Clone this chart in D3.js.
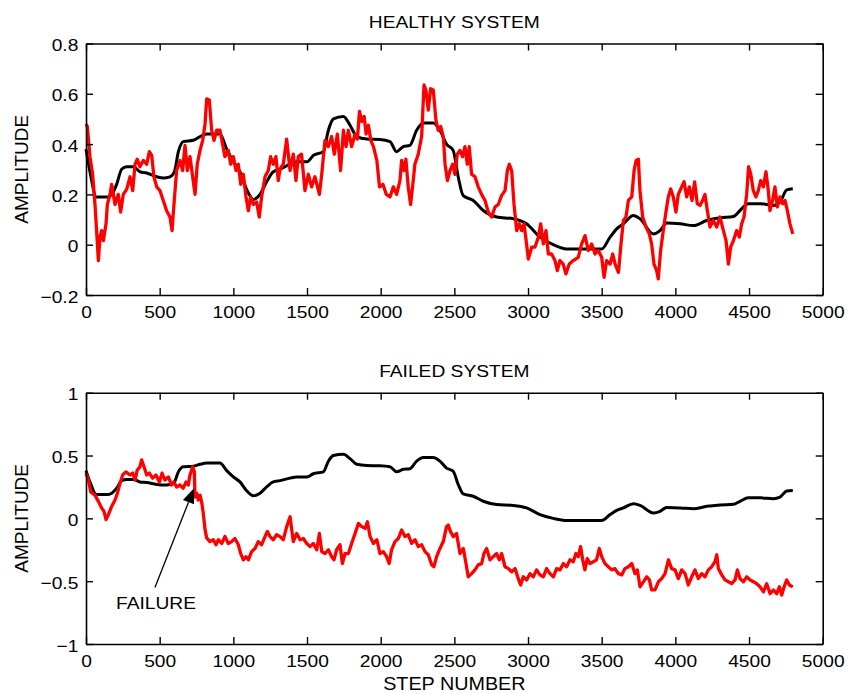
<!DOCTYPE html>
<html>
<head>
<meta charset="utf-8">
<script src="https://cdn.jsdelivr.net/npm/d3@7"></script>
<style>
  body { margin: 0; background: #fff; }
  svg { display: block; }
</style>
</head>
<body>
<svg id="chart"></svg>
<script>
// model output (black) - same in both panels
var modelLine = [[0,0.38],[30,0.28],[70,0.19],[150,0.19],[175,0.20],[208,0.24],[242,0.30],[276,0.31],[321,0.31],[366,0.29],[412,0.285],[480,0.27],[525,0.265],[570,0.27],[600,0.29],[627,0.37],[660,0.41],[728,0.415],[774,0.43],[819,0.44],[909,0.44],[955,0.38],[1000,0.33],[1045,0.29],[1090,0.22],[1136,0.18],[1181,0.20],[1226,0.25],[1271,0.29],[1317,0.30],[1384,0.32],[1430,0.33],[1500,0.33],[1543,0.355],[1611,0.37],[1645,0.455],[1679,0.50],[1747,0.51],[1792,0.475],[1838,0.43],[1906,0.42],[1995,0.418],[2063,0.41],[2108,0.37],[2153,0.39],[2198,0.395],[2244,0.455],[2289,0.484],[2357,0.484],[2402,0.455],[2447,0.40],[2492,0.375],[2526,0.27],[2560,0.195],[2628,0.176],[2696,0.136],[2787,0.11],[2900,0.103],[2990,0.083],[3081,0.03],[3171,0],[3262,-0.017],[3352,-0.017],[3500,-0.017],[3557,0.03],[3602,0.063],[3647,0.083],[3715,0.116],[3760,0.103],[3851,0.043],[3896,0.056],[3941,0.086],[4032,0.083],[4122,0.076],[4213,0.096],[4303,0.107],[4394,0.112],[4439,0.136],[4495,0.163],[4575,0.163],[4665,0.156],[4710,0.169],[4756,0.218],[4797,0.222]];

// measured signal, healthy system (red)
var healthyLine = [[0,0.48],[9,0.47],[27,0.35],[45,0.28],[61,0.16],[72,0.056],[84,-0.063],[95,0.03],[106,0.056],[118,0.016],[136,0.083],[145,0.16],[163,0.20],[174,0.24],[197,0.16],[219,0.20],[235,0.13],[253,0.20],[276,0.22],[299,0.27],[317,0.215],[333,0.32],[348,0.34],[366,0.31],[389,0.335],[412,0.32],[430,0.37],[446,0.355],[461,0.27],[480,0.23],[502,0.215],[525,0.175],[547,0.135],[570,0.11],[584,0.056],[597,0.16],[615,0.295],[638,0.335],[656,0.295],[672,0.395],[688,0.295],[706,0.35],[724,0.27],[740,0.20],[755,0.32],[774,0.375],[792,0.415],[808,0.48],[819,0.58],[837,0.575],[853,0.455],[869,0.415],[887,0.455],[909,0.455],[927,0.40],[943,0.35],[966,0.375],[982,0.32],[1000,0.35],[1018,0.295],[1034,0.32],[1050,0.24],[1068,0.28],[1086,0.19],[1102,0.135],[1117,0.19],[1136,0.16],[1158,0.17],[1176,0.11],[1192,0.19],[1215,0.27],[1237,0.295],[1253,0.35],[1271,0.32],[1289,0.35],[1305,0.255],[1317,0.3],[1339,0.32],[1362,0.42],[1385,0.295],[1407,0.36],[1425,0.255],[1441,0.35],[1463,0.36],[1486,0.215],[1509,0.28],[1531,0.23],[1554,0.27],[1584,0.20],[1600,0.28],[1622,0.415],[1645,0.39],[1667,0.43],[1685,0.36],[1706,0.44],[1728,0.295],[1747,0.455],[1765,0.39],[1781,0.455],[1803,0.39],[1826,0.44],[1842,0.42],[1856,0.53],[1872,0.49],[1888,0.51],[1901,0.44],[1917,0.475],[1933,0.415],[1951,0.39],[1974,0.335],[1992,0.23],[2015,0.24],[2038,0.20],[2063,0.19],[2086,0.23],[2108,0.20],[2131,0.255],[2142,0.335],[2158,0.295],[2171,0.34],[2187,0.23],[2203,0.16],[2221,0.255],[2232,0.32],[2255,0.36],[2278,0.43],[2294,0.635],[2307,0.615],[2323,0.535],[2339,0.62],[2357,0.615],[2375,0.495],[2391,0.455],[2407,0.47],[2425,0.43],[2437,0.32],[2453,0.255],[2471,0.295],[2489,0.32],[2504,0.28],[2520,0.36],[2538,0.375],[2556,0.35],[2572,0.39],[2588,0.32],[2601,0.39],[2617,0.28],[2640,0.27],[2662,0.23],[2685,0.20],[2708,0.176],[2730,0.13],[2753,0.11],[2776,0.15],[2798,0.16],[2821,0.196],[2844,0.215],[2860,0.295],[2873,0.32],[2889,0.295],[2905,0.16],[2923,0.056],[2941,0.083],[2957,0.056],[2973,0.083],[2990,0.003],[3002,-0.057],[3025,-0.01],[3047,-0.01],[3070,0.03],[3086,0.083],[3104,0.003],[3122,0.056],[3138,-0.037],[3160,-0.037],[3183,-0.063],[3199,-0.103],[3217,-0.063],[3239,-0.077],[3257,-0.116],[3280,-0.077],[3307,-0.063],[3341,-0.05],[3364,0.003],[3387,0.036],[3409,-0.023],[3432,0.003],[3455,-0.037],[3477,-0.023],[3500,-0.05],[3516,-0.13],[3534,-0.063],[3557,-0.077],[3575,-0.037],[3591,-0.077],[3614,-0.11],[3629,-0.01],[3647,0.096],[3665,0.11],[3681,0.176],[3704,0.19],[3720,0.295],[3734,0.335],[3749,0.34],[3760,0.215],[3778,0.11],[3801,0.07],[3823,0.043],[3839,0.003],[3855,-0.077],[3873,-0.103],[3884,-0.136],[3900,-0.023],[3918,0.056],[3936,0.13],[3952,0.19],[3968,0.222],[3986,0.19],[4004,0.13],[4020,0.20],[4043,0.23],[4059,0.25],[4077,0.19],[4095,0.23],[4113,0.176],[4131,0.25],[4149,0.163],[4167,0.156],[4185,0.176],[4201,0.20],[4217,0.136],[4235,0.07],[4258,0.096],[4280,0.07],[4303,0.11],[4326,0.056],[4344,0.016],[4360,-0.077],[4375,-0.01],[4394,0.016],[4416,0.056],[4434,0.03],[4450,0.083],[4466,0.11],[4484,0.20],[4497,0.31],[4511,0.283],[4529,0.215],[4547,0.19],[4563,0.215],[4579,0.255],[4597,0.23],[4615,0.29],[4631,0.215],[4642,0.136],[4660,0.176],[4676,0.23],[4692,0.15],[4710,0.19],[4728,0.163],[4744,0.176],[4760,0.136],[4778,0.083],[4797,0.043]];

// measured signal, failed system (red)
var failedLine = [[0,0.36],[16,0.31],[32,0.21],[61,0.185],[84,0.135],[106,0.082],[122,0.056],[136,-0.01],[152,0.03],[174,0.095],[197,0.146],[213,0.2],[231,0.28],[249,0.345],[271,0.37],[299,0.345],[317,0.36],[333,0.305],[348,0.385],[366,0.41],[378,0.465],[394,0.41],[412,0.345],[430,0.36],[452,0.32],[475,0.345],[498,0.29],[516,0.36],[536,0.305],[559,0.33],[581,0.265],[597,0.29],[615,0.25],[638,0.265],[660,0.24],[679,0.29],[694,0.265],[706,0.345],[724,0.41],[735,0.37],[740,0.17],[751,0.2],[762,0.146],[774,0.185],[785,0.13],[796,0.04],[808,-0.09],[819,-0.155],[841,-0.185],[864,-0.17],[882,-0.21],[898,-0.17],[921,-0.2],[943,-0.145],[966,-0.2],[988,-0.185],[1011,-0.16],[1034,-0.21],[1050,-0.28],[1068,-0.33],[1086,-0.305],[1102,-0.33],[1124,-0.265],[1147,-0.24],[1169,-0.185],[1192,-0.21],[1215,-0.145],[1231,-0.105],[1249,-0.145],[1271,-0.17],[1294,-0.13],[1317,-0.145],[1339,-0.17],[1362,-0.066],[1385,0.013],[1407,-0.185],[1430,-0.12],[1453,-0.17],[1475,-0.16],[1498,-0.2],[1521,-0.225],[1543,-0.2],[1566,-0.25],[1584,-0.12],[1600,-0.265],[1622,-0.28],[1645,-0.25],[1667,-0.305],[1683,-0.33],[1701,-0.25],[1724,-0.21],[1740,-0.36],[1758,-0.28],[1781,-0.28],[1803,-0.2],[1826,-0.12],[1849,-0.04],[1871,-0.066],[1894,-0.08],[1910,-0.027],[1928,-0.145],[1951,-0.2],[1974,-0.17],[1995,-0.28],[2018,-0.265],[2040,-0.305],[2058,-0.36],[2074,-0.25],[2097,-0.185],[2120,-0.16],[2142,-0.093],[2165,-0.145],[2187,-0.13],[2210,-0.2],[2233,-0.17],[2255,-0.225],[2278,-0.21],[2301,-0.265],[2323,-0.29],[2346,-0.37],[2361,-0.385],[2380,-0.305],[2402,-0.24],[2425,-0.185],[2447,-0.066],[2459,-0.053],[2474,-0.106],[2493,-0.145],[2515,-0.12],[2538,-0.28],[2561,-0.24],[2579,-0.36],[2594,-0.465],[2617,-0.44],[2640,-0.41],[2662,-0.37],[2685,-0.36],[2701,-0.28],[2719,-0.24],[2742,-0.33],[2764,-0.305],[2787,-0.28],[2805,-0.33],[2821,-0.28],[2844,-0.385],[2867,-0.4],[2889,-0.425],[2912,-0.4],[2934,-0.48],[2950,-0.53],[2968,-0.465],[2991,-0.49],[3013,-0.44],[3036,-0.465],[3058,-0.41],[3081,-0.45],[3104,-0.465],[3126,-0.4],[3149,-0.44],[3172,-0.465],[3194,-0.4],[3217,-0.41],[3240,-0.36],[3262,-0.385],[3285,-0.33],[3307,-0.345],[3325,-0.28],[3341,-0.305],[3357,-0.225],[3371,-0.33],[3386,-0.41],[3402,-0.32],[3420,-0.36],[3443,-0.345],[3465,-0.33],[3484,-0.24],[3500,-0.305],[3522,-0.36],[3545,-0.385],[3568,-0.41],[3590,-0.4],[3613,-0.44],[3636,-0.45],[3658,-0.4],[3681,-0.385],[3704,-0.36],[3726,-0.44],[3742,-0.41],[3760,-0.545],[3783,-0.505],[3806,-0.465],[3824,-0.49],[3839,-0.57],[3862,-0.57],[3885,-0.505],[3907,-0.48],[3930,-0.44],[3953,-0.33],[3975,-0.4],[3998,-0.41],[4020,-0.48],[4043,-0.41],[4066,-0.44],[4088,-0.53],[4111,-0.465],[4133,-0.41],[4156,-0.48],[4179,-0.44],[4201,-0.465],[4224,-0.41],[4247,-0.385],[4269,-0.345],[4281,-0.29],[4292,-0.4],[4315,-0.45],[4337,-0.49],[4360,-0.505],[4382,-0.52],[4405,-0.49],[4421,-0.41],[4439,-0.48],[4462,-0.505],[4484,-0.465],[4507,-0.49],[4530,-0.505],[4552,-0.52],[4575,-0.545],[4598,-0.585],[4620,-0.52],[4643,-0.6],[4666,-0.57],[4688,-0.6],[4706,-0.545],[4722,-0.61],[4738,-0.545],[4756,-0.49],[4774,-0.53],[4797,-0.545]];

var xTicks = [0, 500, 1000, 1500, 2000, 2500, 3000, 3500, 4000, 4500, 5000];
var xLabels = ["0", "500", "1000", "1500", "2000", "2500", "3000", "3500", "4000", "4500", "5000"];
var healthyTicks = [-0.2, 0, 0.2, 0.4, 0.6, 0.8];
var healthyLabels = ["\u22120.2", "0", "0.2", "0.4", "0.6", "0.8"];
var failedTicks = [-1, -0.5, 0, 0.5, 1];
var failedLabels = ["\u22121", "\u22120.5", "0", "0.5", "1"];

// failure annotation: arrow tail, arrow tip, label position (step, amplitude)
var failureTail = [468, -0.55];
var failureTip = [733, 0.24];
var failureLabel = [475, -0.72];

var width = 854;
var height = 694;
var left = 86, right = 822.7;
var font = "'Liberation Sans', Arial, Helvetica, sans-serif";
var stretch = 1.13; // text in the reference is a bit wide

var svg = d3.select("#chart").attr("width", width).attr("height", height);

var x = d3.scaleLinear().domain([0, 5000]).range([left, right]);

function label(g, px, py, str, size) {
  return g.append("text")
    .attr("transform", "translate(" + px + "," + py + ") scale(" + stretch + ",1)")
    .attr("text-anchor", "middle")
    .style("font", (size || 17) + "px " + font)
    .text(str);
}

function panel(top, bottom, yDomain, yTicks, yLabels, title, redData) {
  var y = d3.scaleLinear().domain(yDomain).range([bottom, top]);
  var g = svg.append("g");

  var line = d3.line()
    .x(function (d) { return x(d[0]); })
    .y(function (d) { return y(d[1]); });
  var smooth = d3.line()
    .x(function (d) { return x(d[0]); })
    .y(function (d) { return y(d[1]); })
    .curve(d3.curveMonotoneX);

  g.append("path")
    .datum(modelLine)
    .attr("d", smooth)
    .attr("fill", "none")
    .attr("stroke", "#000")
    .attr("stroke-width", 3)
    .attr("stroke-linejoin", "round");

  g.append("path")
    .datum(redData)
    .attr("d", line)
    .attr("fill", "none")
    .attr("stroke", "#ff0000")
    .attr("stroke-width", 3.3)
    .attr("stroke-linejoin", "round");

  // box with inward ticks on all sides
  var xb = g.append("g").attr("transform", "translate(0," + bottom + ")")
    .call(d3.axisBottom(x).tickValues(xTicks).tickSizeInner(-7).tickSizeOuter(0).tickPadding(11)
      .tickFormat(function (d, i) { return xLabels[i]; }));
  xb.selectAll("text")
    .attr("transform", "scale(" + stretch + ",1)")
    .style("font", "17px " + font);

  g.append("g").attr("transform", "translate(0," + top + ")")
    .call(d3.axisTop(x).tickValues(xTicks).tickSizeInner(-7).tickSizeOuter(0).tickFormat(""));

  var yl = g.append("g").attr("transform", "translate(" + left + ",0)")
    .call(d3.axisLeft(y).tickValues(yTicks).tickSizeInner(-7).tickSizeOuter(0).tickPadding(6.8)
      .tickFormat(function (d, i) { return yLabels[i]; }));
  yl.selectAll("text")
    .attr("transform", "scale(" + stretch + ",1)")
    .attr("dy", "0.42em")
    .style("font", "17px " + font);

  g.append("g").attr("transform", "translate(" + right + ",0)")
    .call(d3.axisRight(y).tickValues(yTicks).tickSizeInner(-7).tickSizeOuter(0).tickFormat(""));

  g.selectAll(".domain").attr("stroke", "#000").attr("stroke-width", 1.6);
  g.selectAll(".tick line").attr("stroke", "#000").attr("stroke-width", 1.4);

  label(g, (left + right) / 2, top - 15.5, title);

  g.append("text")
    .attr("transform", "translate(28," + (top + bottom) / 2 + ") rotate(-90)")
    .attr("text-anchor", "middle")
    .style("font", "19px " + font)
    .text("AMPLITUDE");

  return y;
}

panel(43.5, 295, [-0.2, 0.8], healthyTicks, healthyLabels, "HEALTHY SYSTEM", healthyLine);
var yF = panel(392.7, 644, [-1, 1], failedTicks, failedLabels, "FAILED SYSTEM", failedLine);

label(svg, (left + right) / 2, 690, "STEP NUMBER", 17.5);

// FAILURE arrow
var tip = [x(failureTip[0]), yF(failureTip[1])];
var tail = [x(failureTail[0]), yF(failureTail[1])];
var ang = Math.atan2(tip[1] - tail[1], tip[0] - tail[0]);
var headLen = 15, headW = 6;
var base = [tip[0] - headLen * Math.cos(ang), tip[1] - headLen * Math.sin(ang)];
svg.append("line")
  .attr("x1", tail[0]).attr("y1", tail[1])
  .attr("x2", base[0]).attr("y2", base[1])
  .attr("stroke", "#000").attr("stroke-width", 1.3);
svg.append("path")
  .attr("d", "M" + tip[0] + "," + tip[1] +
    "L" + (base[0] + headW * Math.sin(ang)) + "," + (base[1] - headW * Math.cos(ang)) +
    "L" + (base[0] - headW * Math.sin(ang)) + "," + (base[1] + headW * Math.cos(ang)) + "Z")
  .attr("fill", "#000");
label(svg, x(failureLabel[0]), yF(failureLabel[1]) + 0.5, "FAILURE");
</script>
</body>
</html>
